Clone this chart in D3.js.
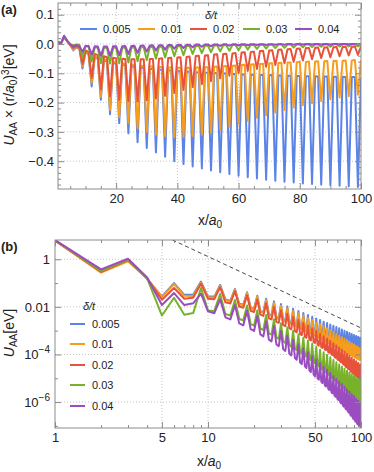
<!DOCTYPE html>
<html><head><meta charset="utf-8">
<script src="https://cdn.jsdelivr.net/npm/d3@7"></script>
<style>
body{margin:0;background:#fff}
svg{display:block}
text{font-family:"Liberation Sans",Arial,sans-serif;fill:#222}
</style></head>
<body><svg id="c" width="374" height="472"></svg>
<script>
// ---------------- data ----------------
// x / a0 (lattice sites along the line)
const xValues = d3.range(1, 101);
const seriesLabels = ["0.005", "0.01", "0.02", "0.03", "0.04"];
const seriesColors = ["#5b84e6", "#f59d1e", "#e9523a", "#78b22b", "#9a4cc0"];
// U_AA × (r/a0)^3 [eV] as plotted in panel (a), one value per x = 1..100
const u005 = [0.0062,0.0025,0.0243,0.0096,-0.0034,-0.0216,-0.011,-0.0164,-0.084,
-0.027,-0.036,-0.145,-0.045,-0.05,-0.19,-0.055,-0.06,-0.24,-0.064,-0.067,-0.27,
-0.07,-0.073,-0.305,-0.076,-0.078,-0.335,-0.08,-0.082,-0.355,-0.084,-0.086,-0.37,
-0.087,-0.089,-0.385,-0.09,-0.091,-0.40,-0.092,-0.093,-0.41,-0.094,-0.095,-0.418,
-0.096,-0.097,-0.425,-0.098,-0.098,-0.432,-0.099,-0.1,-0.438,-0.1,-0.101,-0.444,
-0.102,-0.102,-0.45,-0.103,-0.104,-0.455,-0.104,-0.105,-0.459,-0.105,-0.106,-0.463,
-0.106,-0.107,-0.467,-0.107,-0.108,-0.47,-0.108,-0.108,-0.473,-0.109,-0.109,-0.476,
-0.11,-0.11,-0.478,-0.11,-0.111,-0.48,-0.111,-0.111,-0.482,-0.112,-0.112,-0.484,
-0.112,-0.113,-0.486,-0.113,-0.113,-0.488,-0.114];
const u01 = [0.0062,0.0022,0.0221,0.0099,-0.0033,-0.0194,-0.010,-0.0148,-0.076,
-0.025,-0.033,-0.133,-0.042,-0.047,-0.18,-0.052,-0.056,-0.225,-0.06,-0.063,-0.25,
-0.066,-0.068,-0.27,-0.07,-0.072,-0.288,-0.074,-0.075,-0.30,-0.076,-0.077,-0.31,
-0.078,-0.079,-0.315,-0.08,-0.08,-0.318,-0.081,-0.081,-0.318,-0.081,-0.081,-0.315,
-0.08,-0.08,-0.31,-0.079,-0.079,-0.302,-0.078,-0.077,-0.292,-0.076,-0.075,-0.282,
-0.074,-0.073,-0.272,-0.072,-0.071,-0.262,-0.07,-0.069,-0.252,-0.068,-0.067,-0.243,
-0.066,-0.066,-0.234,-0.065,-0.064,-0.225,-0.063,-0.063,-0.217,-0.062,-0.061,-0.209,
-0.061,-0.06,-0.202,-0.06,-0.059,-0.195,-0.059,-0.058,-0.189,-0.058,-0.057,-0.183,
-0.057,-0.056,-0.178,-0.056,-0.055,-0.173,-0.055];
const u02 = [0.0062,0.0024,0.0251,0.0102,-0.0025,-0.0134,-0.0075,-0.0123,-0.068,
-0.022,-0.028,-0.115,-0.034,-0.038,-0.155,-0.042,-0.045,-0.178,-0.047,-0.049,-0.19,
-0.05,-0.051,-0.195,-0.052,-0.052,-0.196,-0.052,-0.052,-0.192,-0.051,-0.051,-0.186,
-0.05,-0.049,-0.177,-0.048,-0.047,-0.167,-0.046,-0.045,-0.157,-0.044,-0.043,-0.147,
-0.041,-0.04,-0.137,-0.039,-0.038,-0.127,-0.036,-0.035,-0.117,-0.034,-0.033,-0.108,
-0.032,-0.031,-0.1,-0.029,-0.028,-0.092,-0.027,-0.026,-0.085,-0.024,-0.023,-0.078,
-0.022,-0.021,-0.072,-0.02,-0.019,-0.066,-0.018,-0.017,-0.061,-0.016,-0.015,-0.056,
-0.014,-0.014,-0.052,-0.013,-0.012,-0.048,-0.012,-0.011,-0.045,-0.011,-0.01,-0.042,
-0.01,-0.0095,-0.039,-0.009,-0.0085,-0.037,-0.008];
const u03 = [0.0063,0.0026,0.0262,0.0102,-0.00054,-0.0052,-0.0016,-0.0028,-0.045,
-0.007,-0.009,-0.06,-0.011,-0.012,-0.066,-0.013,-0.013,-0.067,-0.013,-0.013,-0.066,
-0.013,-0.013,-0.063,-0.012,-0.012,-0.059,-0.0115,-0.011,-0.055,-0.0105,-0.01,-0.05,
-0.0096,-0.0092,-0.046,-0.0088,-0.0084,-0.042,-0.008,-0.0076,-0.038,-0.0072,-0.0068,-0.034,
-0.0064,-0.006,-0.031,-0.0056,-0.0053,-0.028,-0.005,-0.0047,-0.025,-0.0044,-0.0041,-0.023,
-0.0038,-0.0036,-0.021,-0.0034,-0.0032,-0.019,-0.003,-0.0028,-0.017,-0.0026,-0.0025,-0.0155,
-0.0023,-0.0022,-0.014,-0.0021,-0.002,-0.013,-0.0019,-0.0018,-0.012,-0.0017,-0.0016,-0.011,
-0.0015,-0.0015,-0.0103,-0.0014,-0.0013,-0.0096,-0.0013,-0.0012,-0.009,-0.0012,-0.0011,-0.0086,
-0.0011,-0.001,-0.0083,-0.001,-0.001,-0.008,-0.0009];
const u04 = [0.0064,0.003,0.0284,0.0109,-0.0015,-0.0082,-0.0041,-0.0072,-0.026,
-0.0065,-0.0072,-0.036,-0.008,-0.0082,-0.04,-0.0083,-0.0082,-0.04,-0.008,-0.0078,-0.038,
-0.0074,-0.007,-0.034,-0.0066,-0.0062,-0.03,-0.0058,-0.0054,-0.026,-0.005,-0.0046,-0.022,
-0.0042,-0.0039,-0.019,-0.0036,-0.0033,-0.016,-0.003,-0.0027,-0.0135,-0.0025,-0.0023,-0.0113,
-0.0021,-0.0019,-0.0095,-0.0017,-0.0015,-0.008,-0.0014,-0.0013,-0.0067,-0.0012,-0.0011,-0.0057,
-0.001,-0.00092,-0.0049,-0.00084,-0.00077,-0.0042,-0.0007,-0.00064,-0.0036,-0.00058,-0.00053,-0.0031,
-0.00048,-0.00044,-0.0027,-0.0004,-0.00036,-0.0024,-0.00033,-0.0003,-0.0021,-0.00027,-0.00025,-0.0018,
-0.00023,-0.00021,-0.0016,-0.00019,-0.00017,-0.0014,-0.00016,-0.00014,-0.0013,-0.00013,-0.00012,-0.0011,
-0.00011,-0.0001,-0.001,-0.000095,-0.00009,-0.0009,-0.00008];
const seriesValues = [u005, u01, u02, u03, u04];
// panel (b): |U_AA| = |U_AA (r/a0)^3| / (r/a0)^3, with r/a0 = x/10
const rPerX = 0.1;
// r^-3 guide line in panel (b): two points (x, U)
const guideX = [5.85, 100];
const guideU = [6.5, 0.0013];
// tick labels
const ticksAx = [20, 40, 60, 80, 100];
const ticksAy = [0.1, 0, -0.1, -0.2, -0.3, -0.4];
const ticksBx = [1, 5, 10, 50, 100];
const ticksBy = [1, 0.01, 1e-4, 1e-6];

// ---------------- drawing ----------------
const svg = d3.select("#c");
const frameColor = "#8c8c8c", gridColor = "#c4c4c4";
const lw = 2;

function addClip(id, x0, y0, x1, y1) {
  svg.append("clipPath").attr("id", id).append("rect")
    .attr("x", x0).attr("y", y0).attr("width", x1 - x0).attr("height", y1 - y0);
}

// ===== panel (a) =====
const A = {l: 58, r: 361, t: 3, b: 189};
const xA = d3.scaleLinear().domain([1, 100]).range([A.l, A.r]);
const yA = d3.scaleLinear().domain([-0.495, 0.14]).range([A.b, A.t]);
addClip("clipA", A.l, A.t, A.r, A.b);

const gA = svg.append("g");
gA.selectAll(".gx").data(ticksAx.filter(d => d < 100)).join("line")
  .attr("x1", d => xA(d)).attr("x2", d => xA(d)).attr("y1", A.t).attr("y2", A.b)
  .attr("stroke", gridColor).attr("stroke-dasharray", "1,2");
gA.selectAll(".gy").data(ticksAy).join("line")
  .attr("y1", d => yA(d)).attr("y2", d => yA(d)).attr("x1", A.l).attr("x2", A.r)
  .attr("stroke", gridColor).attr("stroke-dasharray", "1,2");

const lineA = d3.line().x((d, i) => xA(xValues[i])).y(d => yA(d));
const linesA = gA.append("g").attr("clip-path", "url(#clipA)");
seriesValues.forEach((vals, k) => {
  linesA.append("path").attr("d", lineA(vals)).attr("fill", "none")
    .attr("stroke", seriesColors[k]).attr("stroke-width", lw).attr("stroke-linejoin", "round");
});

function styleAxis(g) {
  g.select(".domain").remove();
  g.selectAll(".tick line").attr("stroke", frameColor);
  g.selectAll("text").attr("font-size", 13).attr("fill", "#222");
}
const minorAx = d3.range(5, 100, 5).filter(d => d % 20 !== 0);
const minorAy = d3.range(-48, 14, 2).map(d => d / 100).filter(d => Math.round(d * 100) % 10 !== 0);
[[A.b, d3.axisBottom, true], [A.t, d3.axisTop, false]].forEach(([y, ax, lab]) => {
  svg.append("g").attr("transform", `translate(0,${y})`)
    .call(ax(xA).tickValues(ticksAx).tickSize(-6).tickSizeOuter(0).tickPadding(5)
      .tickFormat(lab ? d3.format("d") : () => "")).call(styleAxis);
  svg.append("g").attr("transform", `translate(0,${y})`)
    .call(ax(xA).tickValues(minorAx).tickSize(-3).tickSizeOuter(0).tickFormat(() => "")).call(styleAxis);
});
[[A.l, d3.axisLeft, true], [A.r, d3.axisRight, false]].forEach(([x, ax, lab]) => {
  svg.append("g").attr("transform", `translate(${x},0)`)
    .call(ax(yA).tickValues(ticksAy).tickSize(-6).tickSizeOuter(0).tickPadding(4)
      .tickFormat(lab ? d3.format(".1f") : () => "")).call(styleAxis);
  svg.append("g").attr("transform", `translate(${x},0)`)
    .call(ax(yA).tickValues(minorAy).tickSize(-3).tickSizeOuter(0).tickFormat(() => "")).call(styleAxis);
});
svg.append("rect").attr("x", A.l).attr("y", A.t).attr("width", A.r - A.l).attr("height", A.b - A.t)
  .attr("fill", "none").attr("stroke", frameColor).attr("stroke-width", 1);

const legA = svg.append("g");
const legAx = [80, 138, 190, 243, 295];
legA.append("text").attr("x", 211).attr("y", 19).attr("text-anchor", "middle").attr("font-size", 11)
  .attr("font-style", "italic").text("δ/t");
seriesLabels.forEach((s, k) => {
  legA.append("line").attr("x1", legAx[k]).attr("x2", legAx[k] + 17).attr("y1", 29).attr("y2", 29)
    .attr("stroke", seriesColors[k]).attr("stroke-width", 2);
  legA.append("text").attr("x", legAx[k] + 23).attr("y", 33).attr("font-size", 11).text(s);
});

svg.append("text").attr("x", 1).attr("y", 14).attr("font-size", 13).attr("font-weight", "bold").text("(a)");
const xlabA = svg.append("text").attr("x", 210).attr("y", 225).attr("text-anchor", "middle").attr("font-size", 14);
xlabA.append("tspan").text("x/");
xlabA.append("tspan").attr("font-style", "italic").text("a");
xlabA.append("tspan").attr("font-size", 10).attr("dy", 3).text("0");

const ylabA = svg.append("text").attr("transform", "translate(14,95) rotate(-90)")
  .attr("text-anchor", "middle").attr("font-size", 14);
ylabA.append("tspan").attr("font-style", "italic").text("U");
ylabA.append("tspan").attr("font-size", 10).attr("dy", 3).text("AA");
ylabA.append("tspan").attr("dy", -3).text(" × (r/");
ylabA.append("tspan").attr("font-style", "italic").text("a");
ylabA.append("tspan").attr("font-size", 10).attr("dy", 3).text("0");
ylabA.append("tspan").attr("dy", -3).text(")");
ylabA.append("tspan").attr("font-size", 10).attr("dy", -5).text("3");
ylabA.append("tspan").attr("dy", 5).text("[eV]");

// ===== panel (b) =====
const B = {l: 55, r: 361, t: 240, b: 428};
const xB = d3.scaleLog().domain([1, 100]).range([B.l, B.r]);
const yB = d3.scaleLog().domain([Math.pow(10, -7.09), Math.pow(10, 0.81)]).range([B.b, B.t]);
addClip("clipB", B.l, B.t, B.r, B.b);
const gB = svg.append("g");
gB.selectAll(".gx").data([5, 10, 50]).join("line")
  .attr("x1", d => xB(d)).attr("x2", d => xB(d)).attr("y1", B.t).attr("y2", B.b)
  .attr("stroke", gridColor).attr("stroke-dasharray", "1,2");
gB.selectAll(".gy").data(ticksBy).join("line")
  .attr("y1", d => yB(d)).attr("y2", d => yB(d)).attr("x1", B.l).attr("x2", B.r)
  .attr("stroke", gridColor).attr("stroke-dasharray", "1,2");

const linesB = gB.append("g").attr("clip-path", "url(#clipB)");
const lineB = d3.line().x((d, i) => xB(xValues[i]))
  .y((d, i) => yB(Math.abs(d) / Math.pow(xValues[i] * rPerX, 3)));
seriesValues.forEach((vals, k) => {
  linesB.append("path").attr("d", lineB(vals)).attr("fill", "none")
    .attr("stroke", seriesColors[k]).attr("stroke-width", lw).attr("stroke-linejoin", "round");
});
linesB.append("path").attr("d", d3.line().x((d, i) => xB(d)).y((d, i) => yB(guideU[i]))(guideX))
  .attr("fill", "none").attr("stroke", "#333").attr("stroke-width", 0.9).attr("stroke-dasharray", "4,3");

const minorBx = [2, 3, 4, 6, 7, 8, 9, 20, 30, 40, 60, 70, 80, 90];
const minorBy = [1e-7, 1e-5, 1e-3, 0.1];
function supFmt(sel) {
  sel.each(function (d) {
    const t = d3.select(this);
    if (d >= 0.01) { t.text(d === 1 ? "1" : "0.01"); return; }
    const e = Math.round(Math.log10(d));
    t.text("10");
    t.append("tspan").attr("dy", -6).attr("font-size", 10).text("−" + Math.abs(e));
  });
}
[[B.b, d3.axisBottom, true], [B.t, d3.axisTop, false]].forEach(([y, ax, lab]) => {
  svg.append("g").attr("transform", `translate(0,${y})`)
    .call(ax(xB).tickValues(ticksBx).tickSize(-6).tickSizeOuter(0).tickPadding(5)
      .tickFormat(lab ? d3.format("d") : () => "")).call(styleAxis);
  svg.append("g").attr("transform", `translate(0,${y})`)
    .call(ax(xB).tickValues(minorBx).tickSize(-3).tickSizeOuter(0).tickFormat(() => "")).call(styleAxis);
});
[[B.l, d3.axisLeft, true], [B.r, d3.axisRight, false]].forEach(([x, ax, lab]) => {
  const g = svg.append("g").attr("transform", `translate(${x},0)`)
    .call(ax(yB).tickValues(ticksBy).tickSize(-6).tickSizeOuter(0).tickPadding(5).tickFormat(() => "")).call(styleAxis);
  if (lab) g.selectAll(".tick text").call(supFmt);
  svg.append("g").attr("transform", `translate(${x},0)`)
    .call(ax(yB).tickValues(minorBy).tickSize(-3).tickSizeOuter(0).tickFormat(() => "")).call(styleAxis);
});
svg.append("rect").attr("x", B.l).attr("y", B.t).attr("width", B.r - B.l).attr("height", B.b - B.t)
  .attr("fill", "none").attr("stroke", frameColor).attr("stroke-width", 1);

const legB = svg.append("g");
const legBy = [324, 344, 365, 385, 406];
legB.append("text").attr("x", 89).attr("y", 310).attr("text-anchor", "middle").attr("font-size", 11)
  .attr("font-style", "italic").text("δ/t");
seriesLabels.forEach((s, k) => {
  legB.append("line").attr("x1", 70).attr("x2", 85).attr("y1", legBy[k]).attr("y2", legBy[k])
    .attr("stroke", seriesColors[k]).attr("stroke-width", 2);
  legB.append("text").attr("x", 92).attr("y", legBy[k] + 4).attr("font-size", 11).text(s);
});

svg.append("text").attr("x", 1).attr("y", 251).attr("font-size", 13).attr("font-weight", "bold").text("(b)");
const xlabB = svg.append("text").attr("x", 209).attr("y", 466).attr("text-anchor", "middle").attr("font-size", 14);
xlabB.append("tspan").text("x/");
xlabB.append("tspan").attr("font-style", "italic").text("a");
xlabB.append("tspan").attr("font-size", 10).attr("dy", 3).text("0");
const ylabB = svg.append("text").attr("transform", "translate(14,333) rotate(-90)")
  .attr("text-anchor", "middle").attr("font-size", 14);
ylabB.append("tspan").attr("font-style", "italic").text("U");
ylabB.append("tspan").attr("font-size", 10).attr("dy", 3).text("AA");
ylabB.append("tspan").attr("dy", -3).text("[eV]");
</script>
</body></html>
